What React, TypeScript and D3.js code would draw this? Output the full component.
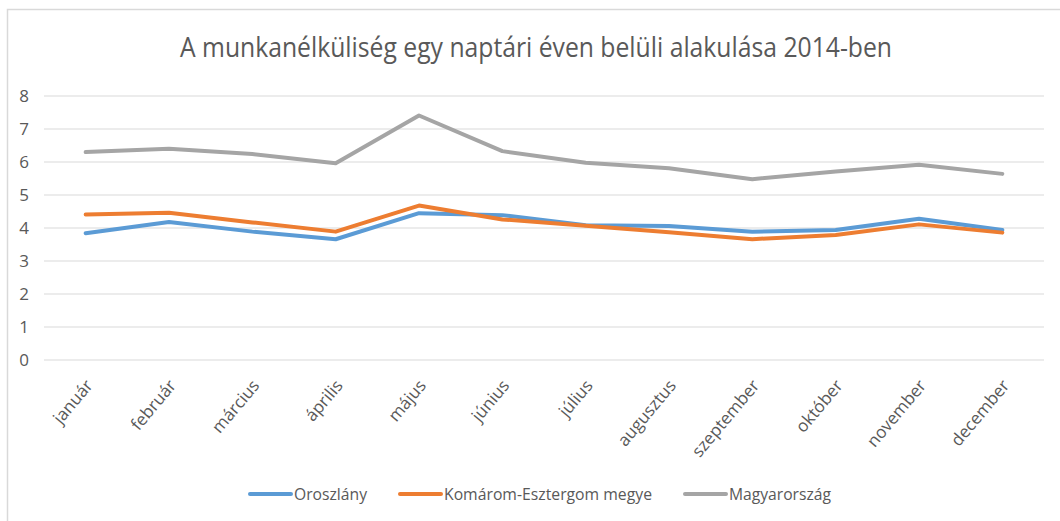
import React from "react";
import * as d3 from "d3";

const months = ["január","február","március","április","május","június","július","augusztus","szeptember","október","november","december"];
const oroszlany = [3.84,4.18,3.89,3.66,4.45,4.39,4.08,4.06,3.89,3.94,4.28,3.94];
const komarom = [4.41,4.46,4.17,3.89,4.68,4.26,4.07,3.87,3.66,3.79,4.11,3.86];
const magyarorszag = [6.30,6.40,6.24,5.96,7.41,6.33,5.98,5.81,5.48,5.71,5.92,5.64];
const yTicks = [0,1,2,3,4,5,6,7,8];
const seriesNames = ["Oroszlány","Komárom-Esztergom megye","Magyarország"];
const seriesColors = ["#5B9BD5","#ED7D31","#A5A5A5"];

const W = 1060, H = 521;
const plot = { left: 44, right: 1044, top: 96, bottom: 360 };
const FONT = "'Open Sans', 'Noto Sans', sans-serif";
const TEXT = "#595959";

export default function App() {
  const x = d3.scaleBand<string>().domain(months).range([plot.left, plot.right]);
  const y = d3.scaleLinear().domain([0, 8]).range([plot.bottom, plot.top]);
  const cx = (m: string) => (x(m) ?? 0) + x.bandwidth() / 2;
  const line = d3.line<number>().x((_, i) => cx(months[i])).y(d => y(d));
  const data = [oroszlany, komarom, magyarorszag];
  const legendX = [250, 400, 685];
  const legendW = [73, 208, 102];

  return (
    <svg width={W} height={H} style={{ position: "absolute", left: 0, top: 0, background: "#fff" }} fontFamily={FONT}>
      <rect x={0} y={0} width={W} height={H} fill="#fff" />
      <path d={`M7.5,${H} L7.5,9.5 L${W},9.5`} fill="none" stroke="#D9D9D9" strokeWidth={1.5} />
      <text x={536} y={57} textAnchor="middle" fontSize={28} fill={TEXT} textLength={712} lengthAdjust="spacingAndGlyphs">
        A munkanélküliség egy naptári éven belüli alakulása 2014-ben
      </text>
      {yTicks.map(t => (
        <g key={t}>
          <line x1={plot.left} x2={plot.right} y1={y(t)} y2={y(t)} stroke="#D9D9D9" strokeWidth={1} />
          <text x={29} y={y(t)} dy="0.35em" textAnchor="end" fontSize={17} fill={TEXT}>{t}</text>
        </g>
      ))}
      {months.map(m => (
        <text key={m} transform={`translate(${cx(m) + 8},${plot.bottom + 26}) rotate(-50)`} textAnchor="end" fontSize={17} fill={TEXT}>{m}</text>
      ))}
      {data.map((d, i) => (
        <path key={i} d={line(d) ?? ""} fill="none" stroke={seriesColors[i]} strokeWidth={4} strokeLinejoin="round" strokeLinecap="round" />
      ))}
      {seriesNames.map((n, i) => (
        <g key={n}>
          <line x1={legendX[i]} x2={legendX[i] + 41} y1={494} y2={494} stroke={seriesColors[i]} strokeWidth={4} strokeLinecap="round" />
          <text x={legendX[i] + 44} y={494} dy="0.35em" fontSize={16} fill={TEXT} textLength={legendW[i]} lengthAdjust="spacingAndGlyphs">{n}</text>
        </g>
      ))}
    </svg>
  );
}
